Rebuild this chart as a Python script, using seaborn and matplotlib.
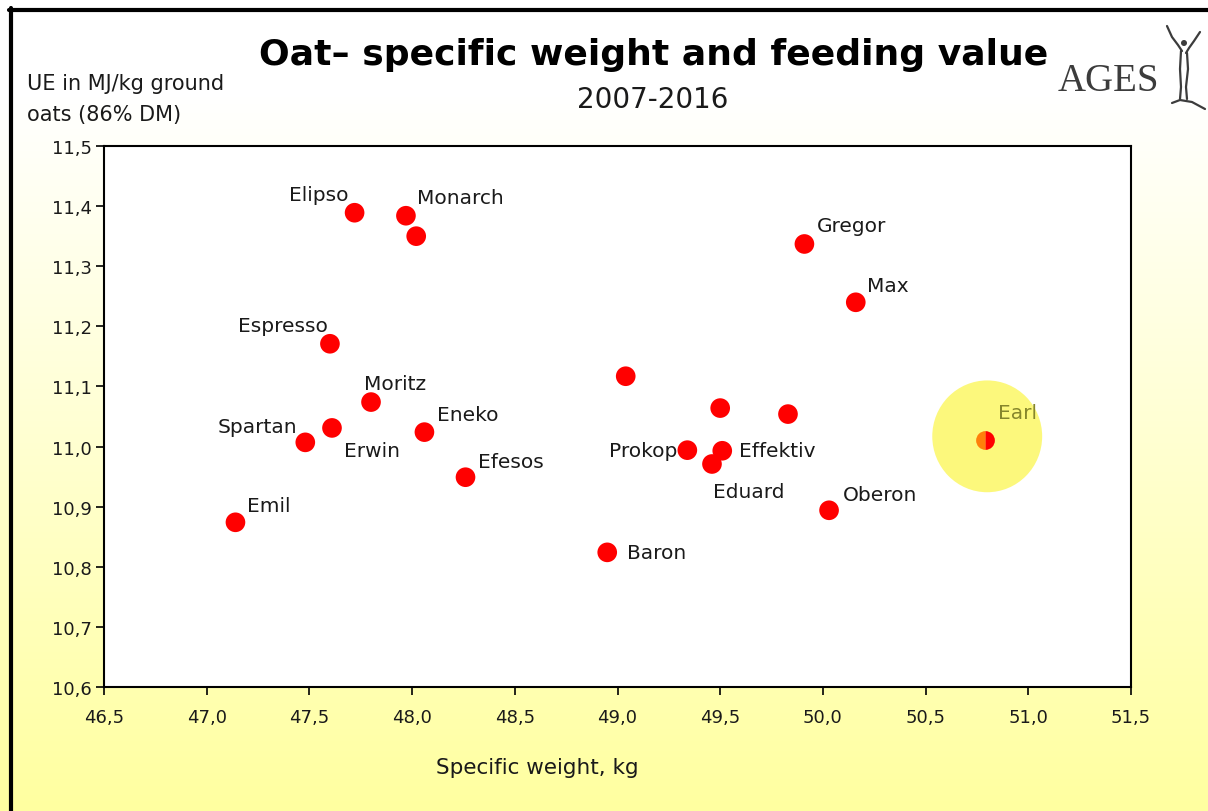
import numpy as np
import matplotlib
matplotlib.use("Agg")
import matplotlib.pyplot as plt
import seaborn as sns
from matplotlib.patches import Ellipse
from matplotlib.lines import Line2D
from matplotlib.ticker import FuncFormatter, MultipleLocator

sns.set_style("white")
plt.rcParams['font.family'] = ['DejaVu Sans']

# data
varieties = ["Elipso", "Monarch", "", "Gregor", "Max", "Espresso", "", "Moritz", "", "",
             "Spartan", "Erwin", "Eneko", "Efesos", "Emil", "Prokop", "Effektiv", "Eduard",
             "Oberon", "Baron", "Earl"]
spec_weight = [47.72, 47.97, 48.02, 49.91, 50.16, 47.60, 49.04, 47.80, 49.50, 49.83,
               47.48, 47.61, 48.06, 48.26, 47.14, 49.34, 49.51, 49.46,
               50.03, 48.95, 50.79]
energy = [11.389, 11.384, 11.350, 11.337, 11.240, 11.171, 11.117, 11.074, 11.064, 11.054,
          11.007, 11.031, 11.024, 10.949, 10.874, 10.994, 10.993, 10.971,
          10.894, 10.824, 11.011]
highlight = "Earl"

# label placement (pixel offsets from the point, alignment)
label_pos = {
    "Elipso": (-6, 18, "right"), "Monarch": (11, 18, "left"), "Gregor": (12, 18, "left"),
    "Max": (11, 17, "left"), "Espresso": (-2, 18, "right"), "Moritz": (-7, 19, "left"),
    "Spartan": (-8, 16, "right"), "Erwin": (12, -23, "left"), "Eneko": (13, 18, "left"),
    "Efesos": (12, 16, "left"), "Emil": (12, 17, "left"), "Prokop": (-10, 0, "right"),
    "Effektiv": (17, 0, "left"), "Eduard": (1, -28, "left"), "Oberon": (14, 16, "left"),
    "Baron": (20, 0, "left"), "Earl": (13, 27, "left"),
}

W, H = 1208, 812
fig = plt.figure(figsize=(W / 100, H / 100), dpi=100)

# background gradient white -> pale yellow
bg = fig.add_axes([0, 0, 1, 1], zorder=-10)
t = np.clip((np.linspace(0, 1, 256) - 0.12) / 0.88, 0, 1)
top = np.array([1.0, 1.0, 1.0])
bottom = np.array([1.0, 1.0, 160 / 255])
grad = top[None, :] * (1 - t[:, None]) + bottom[None, :] * t[:, None]
bg.imshow(grad[:, None, :], aspect="auto", extent=[0, 1, 0, 1])
bg.set_axis_off()

def fx(px):
    return px / W

def fy(py):
    return 1 - py / H

# frame lines at top and left
fig.add_artist(Line2D([fx(10.5), fx(10.5)], [0, fy(8.5)], color="black", lw=3, transform=fig.transFigure))
fig.add_artist(Line2D([fx(8.5), 1], [fy(10.5), fy(10.5)], color="black", lw=3, transform=fig.transFigure))

ax = fig.add_axes([fx(104), fy(688), fx(1131) - fx(104), fy(147) - fy(688)])
ax.set_facecolor("white")

df_main = {
    "w": [w for w, n in zip(spec_weight, varieties) if n != highlight],
    "e": [e for e, n in zip(energy, varieties) if n != highlight],
}
hi = varieties.index(highlight)

# yellow marker blob around Earl
ax.add_patch(Ellipse((spec_weight[hi] + 0.01, energy[hi] + 0.006), 0.535, 0.186,
                     facecolor="#fcf87c", edgecolor="none", zorder=1))

sns.scatterplot(x=df_main["w"], y=df_main["e"], ax=ax, color="#ff0000", s=200,
                edgecolor="none", zorder=3)
ax.plot(spec_weight[hi], energy[hi], marker="o", markersize=13.5, fillstyle="left",
        markerfacecolor="#ff7f0a", markerfacecoloralt="#ff0000", markeredgewidth=0,
        linestyle="none", zorder=3)

for name, w, e in zip(varieties, spec_weight, energy):
    if not name:
        continue
    dx, dy, ha = label_pos[name]
    col = "#86862c" if name == highlight else "#1a1a1a"
    ax.annotate(name, (w, e), xytext=(dx, dy), textcoords="offset pixels",
                ha=ha, va="center", fontsize=14.5, color=col, zorder=4)

ax.set_xlim(46.5, 51.5)
ax.set_ylim(10.6, 11.5)
ax.xaxis.set_major_locator(MultipleLocator(0.5))
ax.yaxis.set_major_locator(MultipleLocator(0.1))
comma = FuncFormatter(lambda v, p: f"{v:.1f}".replace(".", ","))
ax.xaxis.set_major_formatter(comma)
ax.yaxis.set_major_formatter(comma)
ax.tick_params(axis="both", direction="out", length=6, width=1.2, color="black",
               labelsize=13, labelcolor="#1a1a1a", left=True, bottom=True)
ax.tick_params(axis="x", pad=9)
ax.tick_params(axis="y", pad=3)
for sp in ax.spines.values():
    sp.set_color("black")
    sp.set_linewidth(1.5)
ax.set_xlabel("")
ax.set_ylabel("")

# titles and axis texts
fig.text(fx(654), fy(55), "Oat\u2013 specific weight and feeding value", ha="center", va="center",
         fontsize=26, fontweight="bold", color="black")
fig.text(fx(653), fy(100), "2007-2016", ha="center", va="center", fontsize=20, color="#1a1a1a")
fig.text(fx(27), fy(84), "UE in MJ/kg ground", ha="left", va="center", fontsize=15, color="#1a1a1a")
fig.text(fx(27), fy(115), "oats (86% DM)", ha="left", va="center", fontsize=15, color="#1a1a1a")
fig.text(fx(537), fy(768), "Specific weight, kg", ha="center", va="center", fontsize=15.5, color="#1a1a1a")

# AGES logo
fig.text(fx(1058), fy(91), "AGES", ha="left", va="baseline", fontsize=28,
         family="Liberation Serif", color="#3c3c3c")
logo_strokes = [
    [(1167, 27), (1172, 38), (1178, 46), (1182, 52)],
    [(1200, 33), (1194, 42), (1189, 49), (1186, 54)],
    [(1181, 52), (1180, 70), (1181, 88), (1180, 100)],
    [(1187, 54), (1188, 70), (1186, 88), (1187, 100)],
    [(1172, 104), (1180, 101), (1192, 103), (1205, 110)],
]
for stroke in logo_strokes:
    xs = [fx(p[0]) for p in stroke]
    ys = [fy(p[1]) for p in stroke]
    fig.add_artist(Line2D(xs, ys, color="#3c3c3c", lw=1.6, transform=fig.transFigure))
fig.add_artist(Ellipse((fx(1184), fy(44)), fx(6), 6 / H, facecolor="#3c3c3c",
                       edgecolor="none", transform=fig.transFigure))

fig.savefig("out.png", dpi=100)
